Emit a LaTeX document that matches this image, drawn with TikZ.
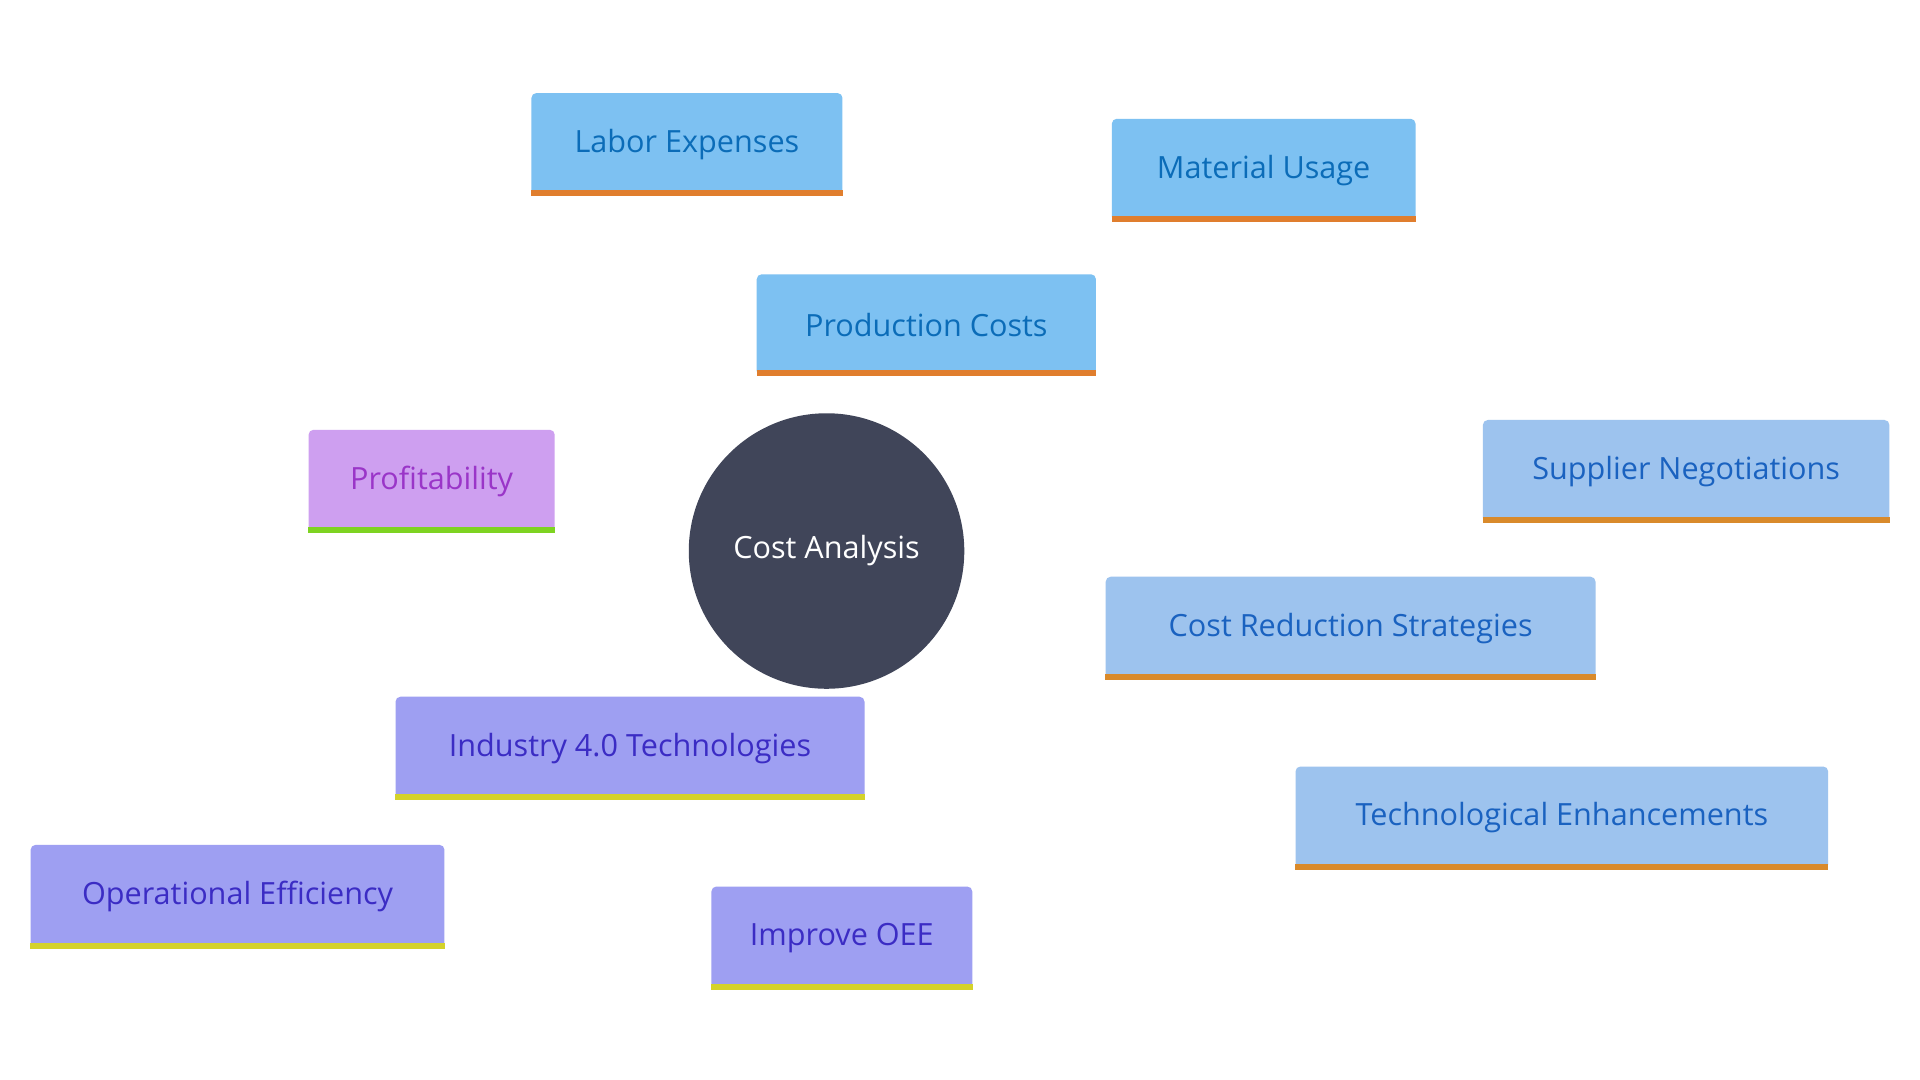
\documentclass[tikz,border=0pt]{standalone}
\usepackage{fontspec}
\setmainfont{Open Sans}
\usetikzlibrary{backgrounds}
\definecolor{pc}{HTML}{7DC1F2}\definecolor{pt}{HTML}{0B6CB8}
\definecolor{cr}{HTML}{9DC3EE}\definecolor{ct}{HTML}{1A62C0}
\definecolor{ind}{HTML}{9E9FF2}\definecolor{it}{HTML}{3B2CC4}
\definecolor{pf}{HTML}{CE9FF0}\definecolor{pft}{HTML}{9A35C8}
\definecolor{orb}{HTML}{E07E2E}\definecolor{orb2}{HTML}{D98A2B}
\definecolor{yb}{HTML}{D4D22B}\definecolor{gb}{HTML}{7ED321}
\definecolor{ca}{HTML}{404559}
\begin{document}
\begin{tikzpicture}[x=1pt,y=-1pt,
  box/.style={rounded corners=4pt,inner sep=0pt,font=\fontsize{25}{30}\selectfont},
  ln/.style={line width=5.5pt}]
\useasboundingbox[fill=white] (0,0) rectangle (1568,882);
\newcommand\bx[9]{%
  \node[box,fill=#6,text=#8,minimum width=#4pt,minimum height=#5pt] (#1) at (#2,#3) {#9};
  \fill[#7] (#1.south west) rectangle ([yshift=5pt]#1.south east);}
\node[circle,fill=ca,minimum size=225pt,text=white,font=\fontsize{25}{30}\selectfont,inner sep=0pt] (c) at (675,450) {Cost Analysis};
\bx{pc}{756.5}{265.5}{277}{83}{pc}{orb}{pt}{Production Costs}
\bx{le}{561}{118}{254}{84}{pc}{orb}{pt}{Labor Expenses}
\bx{mu}{1032}{139}{248}{84}{pc}{orb}{pt}{Material Usage}
\bx{pr}{352.5}{393}{201}{84}{pf}{gb}{pft}{Profitability}
\bx{cr}{1103}{513}{400}{84}{cr}{orb2}{ct}{Cost Reduction Strategies}
\bx{sn}{1377}{385}{332}{84}{cr}{orb2}{ct}{Supplier Negotiations}
\bx{te}{1275.5}{668}{435}{84}{cr}{orb2}{ct}{Technological Enhancements}
\bx{in}{514.5}{611}{383}{84}{ind}{yb}{it}{Industry 4.0 Technologies}
\bx{oe}{194}{732.5}{338}{85}{ind}{yb}{it}{Operational Efficiency}
\bx{oo}{687.5}{766}{213}{84}{ind}{yb}{it}{Improve OEE}
\begin{scope}[on background layer]
\draw[ln,pc] (c)--(pc) (pc)--(le) (pc)--(mu);
\draw[ln,pf] (c)--(pr);
\draw[ln,cr] (c)--(cr) (cr)--(sn) (cr)--(te);
\draw[ln,ind] (c)--(in) (in)--(oe) (in)--(oo);
\end{scope}
\end{tikzpicture}
\end{document}
